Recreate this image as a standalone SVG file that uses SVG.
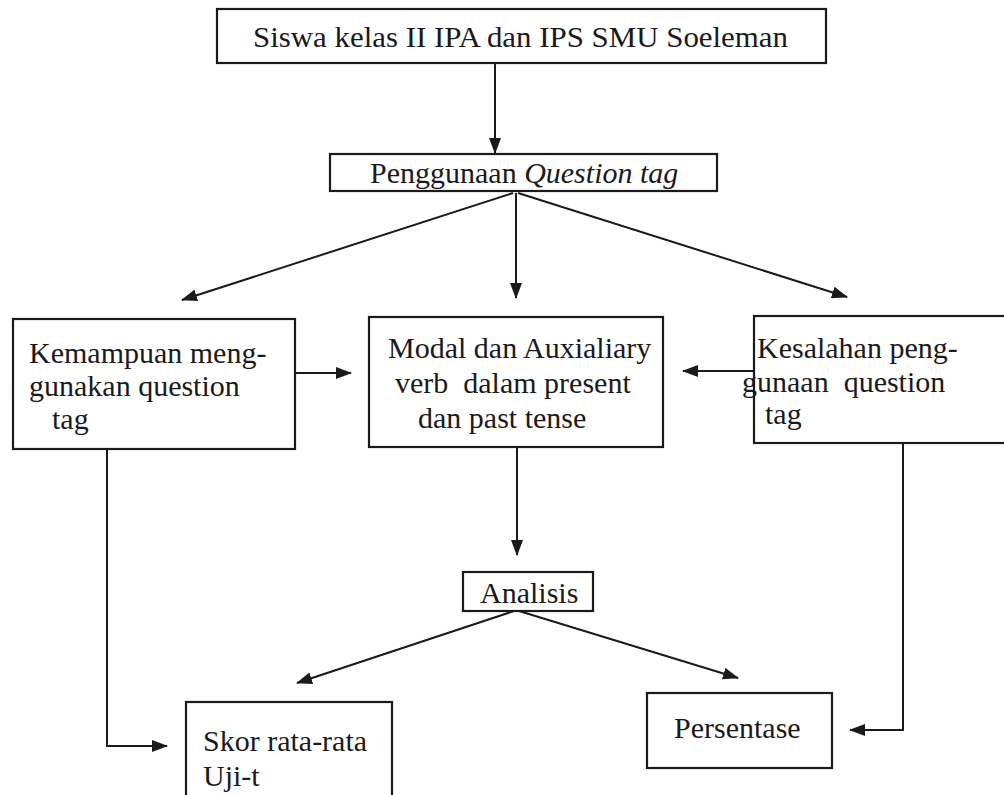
<svg xmlns="http://www.w3.org/2000/svg" width="1004" height="795" viewBox="0 0 1004 795">
<style>
.box{fill:#fff;stroke:#1a1a1a;stroke-width:2.2}
.t{font-family:"Liberation Serif","Times New Roman",serif;font-size:30px;fill:#1a1a1a}
.c{fill:none;stroke:#1a1a1a;stroke-width:2;marker-end:url(#ah)}
</style>
<defs>
<marker id="ah" markerUnits="userSpaceOnUse" markerWidth="16" markerHeight="12" refX="15" refY="6" orient="auto">
<path d="M0,0 L16,6 L0,12 Z" fill="#1a1a1a"/>
</marker>
</defs>
<rect width="1004" height="795" fill="#fff"/>
<g id="connectors">
<line class="c" x1="495" y1="63" x2="495" y2="153"/>
<line class="c" x1="513" y1="193" x2="182" y2="300"/>
<line class="c" x1="516" y1="193" x2="516" y2="298"/>
<line class="c" x1="518" y1="193" x2="847" y2="297"/>
<line class="c" x1="295" y1="373" x2="351" y2="373"/>
<line class="c" x1="754" y1="371" x2="683" y2="371"/>
<line class="c" x1="517" y1="447" x2="517" y2="555"/>
<line class="c" x1="514" y1="611" x2="297" y2="683"/>
<line class="c" x1="519" y1="611" x2="738" y2="678"/>
<polyline class="c" points="107,449 107,746 167,746"/>
<polyline class="c" points="903,443 903,730 850,730"/>
</g>
<g id="n-siswa">
<rect class="box" x="217" y="9" width="609" height="54"/>
<text class="t" x="253" y="47" textLength="535" lengthAdjust="spacingAndGlyphs">Siswa kelas II IPA dan IPS SMU Soeleman</text>
</g>
<g id="n-penggunaan">
<rect class="box" x="330" y="154" width="387" height="37"/>
<text class="t" x="370" y="183">Penggunaan <tspan font-style="italic">Question tag</tspan></text>
</g>
<g id="n-kemampuan">
<rect class="box" x="13" y="319" width="282" height="130"/>
<text class="t" x="29" y="363">Kemampuan meng-</text>
<text class="t" x="29" y="396">gunakan question</text>
<text class="t" x="52" y="429">tag</text>
</g>
<g id="n-modal">
<rect class="box" x="369" y="317" width="294" height="130"/>
<text class="t" x="388" y="358">Modal dan Auxialiary</text>
<text class="t" x="395" y="393" xml:space="preserve">verb  dalam present</text>
<text class="t" x="418" y="428">dan past tense</text>
</g>
<g id="n-kesalahan">
<rect class="box" x="754" y="316" width="262" height="127"/>
<text class="t" x="757" y="358">Kesalahan peng-</text>
<text class="t" x="742" y="392" xml:space="preserve">gunaan  question</text>
<text class="t" x="765" y="424">tag</text>
</g>
<g id="n-analisis">
<rect class="box" x="463" y="572" width="130" height="39"/>
<text class="t" x="480" y="603">Analisis</text>
</g>
<g id="n-skor">
<rect class="box" x="186" y="702" width="206" height="110"/>
<text class="t" x="203" y="751">Skor rata-rata</text>
<text class="t" x="203" y="786">Uji-t</text>
</g>
<g id="n-persentase">
<rect class="box" x="647" y="693" width="185" height="75"/>
<text class="t" x="674" y="738">Persentase</text>
</g>
</svg>
